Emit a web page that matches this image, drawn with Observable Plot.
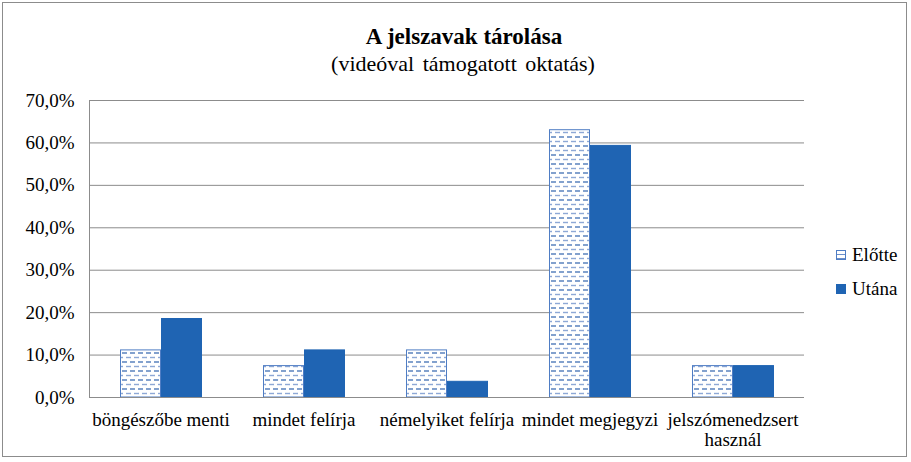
<!DOCTYPE html>
<html><head><meta charset="utf-8">
<script src="https://cdn.jsdelivr.net/npm/d3@7"></script>
<script src="https://cdn.jsdelivr.net/npm/@observablehq/plot@0.6"></script>
<style>
body{margin:0;background:#fff;font-family:"Liberation Serif",Tinos,serif;}
#wrap{position:relative;width:911px;height:462px;}
#border{position:absolute;left:2px;top:2px;width:905px;height:455px;border:1px solid #8c8c8c;box-sizing:border-box;}
#title{position:absolute;left:0;width:928px;top:24px;text-align:center;font-weight:bold;font-size:23px;color:#000;}
#subtitle{position:absolute;left:0;width:926px;top:51px;text-align:center;font-size:22px;color:#000;word-spacing:3px;}
#legend{position:absolute;left:836px;top:238px;font-size:19px;color:#000;}
#legend div{display:flex;align-items:center;height:34px;}
.sw{width:10px;height:10px;margin-right:6px;box-sizing:border-box;}
</style></head><body>
<div id="wrap"><div id="chart"></div><div id="border"></div>
<div id="title">A jelszavak tárolása</div>
<div id="subtitle">(videóval támogatott oktatás)</div>
<div id="legend"></div></div>
<script>
const categories = ["böngészőbe menti","mindet felírja","némelyiket felírja","mindet megjegyzi","jelszómenedzsert\nhasznál"];
const series = ["Előtte","Utána"];
const elotte = [0.111,0.074,0.111,0.630,0.074];
const utana  = [0.185,0.111,0.037,0.593,0.074];
const yTicks = [0,0.1,0.2,0.3,0.4,0.5,0.6,0.7];

const data = [];
categories.forEach((c,i)=>{
  data.push({cat:c, s:series[0], v:elotte[i]});
  data.push({cat:c, s:series[1], v:utana[i]});
});
const fmt = d => (d*100).toFixed(1).replace(".",",") + "%";
const dark = "#1f64b3";

const chart = Plot.plot({
  width: 911, height: 462,
  marginLeft: 87, marginRight: 105, marginTop: 100, marginBottom: 65,
  style: {fontFamily: '"Liberation Serif",Tinos,serif', fontSize: "19px", color:"#000", background:"transparent"},
  fx: {domain: categories, padding: 0, label: null},
  x: {domain: series, paddingInner: 0, paddingOuter: 0.714, axis: null},
  y: {domain: [0,0.7], label: null},
  marks: [
    Plot.gridY(yTicks.slice(1), {stroke:"#8c8c8c", strokeOpacity:1}),
    Plot.barY(data, {fx:"cat", x:"s", y:"v", fill: d => d.s===series[0] ? "url(#dashpat)" : dark, stroke: d => d.s===series[0] ? "#4f7dc4" : dark, strokeWidth: 1, insetLeft:0.5, insetRight:0.5}),
    Plot.ruleY([0], {stroke:"#8c8c8c"}),
    Plot.frame({anchor:"left", stroke:"#8c8c8c", fx: [categories[0]]}),
    Plot.axisY(yTicks, {tickFormat: fmt, tickSize: 0, tickPadding: 15, fontSize: 19, label: null}),
    Plot.axisFx({anchor:"bottom", tickSize: 0, tickPadding: 14, fontSize: 19, label: null, lineHeight: 1.05})
  ]
});

// pattern defs
const svgns = "http://www.w3.org/2000/svg";
const defs = document.createElementNS(svgns, "defs");
defs.innerHTML = `<pattern id="dashpat" patternUnits="userSpaceOnUse" width="8" height="9">
  <rect width="8" height="9" fill="#fff"/>
  <line x1="0" y1="2" x2="5" y2="2" stroke="#2f62ad" stroke-width="1.2"/>
  <line x1="4" y1="6.5" x2="9" y2="6.5" stroke="#8ea8d6" stroke-width="1.4"/>
  <line x1="-4" y1="6.5" x2="1" y2="6.5" stroke="#8ea8d6" stroke-width="1.4"/>
</pattern>`;
chart.insertBefore(defs, chart.firstChild);
document.getElementById("chart").appendChild(chart);

// legend
const lg = document.getElementById("legend");
series.forEach((s,i)=>{
  const row = document.createElement("div");
  const sw = document.createElement("span");
  sw.className = "sw";
  if (i===0){ sw.style.border = "1px solid #4f7dc4"; sw.style.background = "repeating-linear-gradient(#fff 0 3px,#6b8fcc 3px 4px)"; }
  else { sw.style.background = dark; }
  row.appendChild(sw);
  row.appendChild(document.createTextNode(s));
  lg.appendChild(row);
});
</script></body></html>
